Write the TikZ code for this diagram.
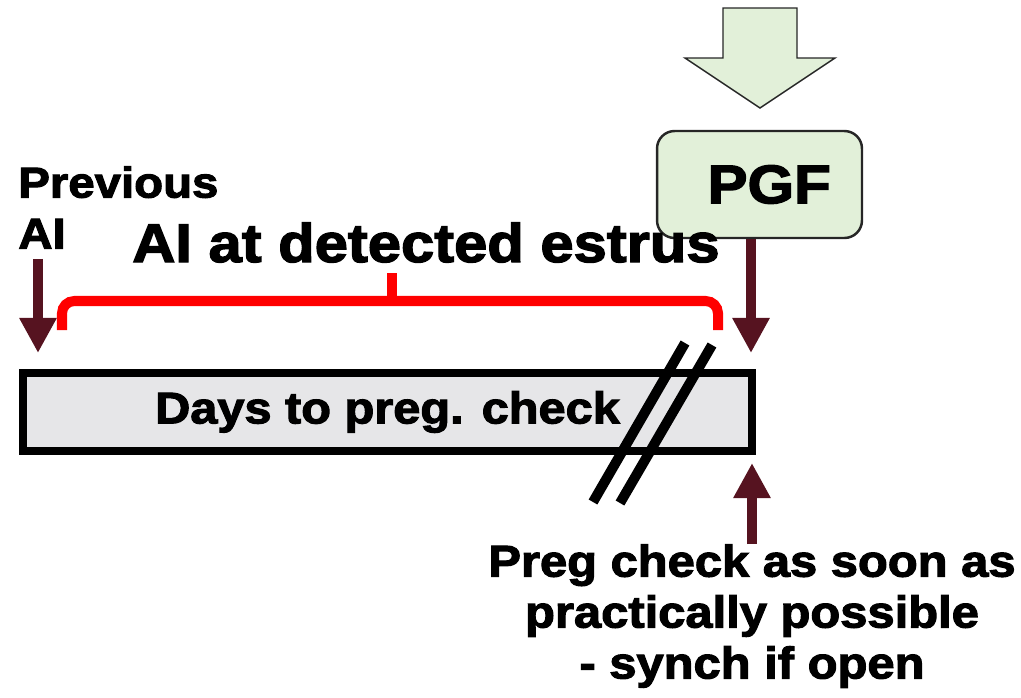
\documentclass[tikz,border=0pt]{standalone}
\usepackage{fontspec}
\newfontfamily\heavyfont[FakeBold=2.5,FakeStretch=1.1]{Liberation Sans Bold}
\usetikzlibrary{arrows.meta}
\definecolor{pgfbg}{HTML}{E2F0D9}
\definecolor{pgfborder}{HTML}{262626}
\definecolor{arrowdark}{HTML}{561320}
\definecolor{barbg}{HTML}{E6E6E8}
\definecolor{bracered}{HTML}{FF0000}

\begin{document}
\begin{tikzpicture}[
    x=0.02cm, y=-0.02cm,
    every node/.style={inner sep=0pt},
    label/.style={font=\heavyfont\fontsize{#1}{29pt}\selectfont},
    pgfbox/.style={
        draw=pgfborder, fill=pgfbg, rounded corners=10pt, line width=1.4pt,
        minimum width=4.1cm, minimum height=2.14cm
    },
    bar/.style={
        draw=black, fill=barbg, line width=4.5pt,
        minimum width=14.58cm, minimum height=1.56cm
    },
    darkarrow/.style={
        draw=arrowdark, line width=6.2pt, -{Triangle[length=20pt, width=20pt]}
    },
    slash/.style={draw=black, line width=5.7pt},
]
\useasboundingbox (0,0) rectangle (1021,697);

% Big block arrow into PGF
\draw[fill=pgfbg, draw=pgfborder, line width=0.8pt]
    (723,8) -- (797,8) -- (797,58) -- (835,58) -- (760,108)
    -- (685,58) -- (723,58) -- cycle;

% PGF box
\node[pgfbox, label=31pt] (pgf) at (759.5,184.5) {\hspace*{11pt}PGF};

% Days bar
\node[bar, label=25.2pt] (bar) at (387.5,412) {Days to preg. check};

% Texts
\node[label=24.5pt, align=left, anchor=north west] (prevai) at (18,166)
    {Previous\\AI};
\node[label=30.9pt, anchor=base] (estrus) at (426,262) {AI at detected estrus};
\node[label=25.3pt, align=center, anchor=north] (checknote) at (752,544)
    {Preg check as soon as\\practically possible\\- synch if open};

% Red brace
\draw[bracered, line width=5.7pt, rounded corners=7pt]
    (62,330) -- (62,301) -- (718,301) -- (718,330);
\draw[bracered, line width=5.7pt] (392,302) -- (392,273);

% Break marks across the bar
\draw[slash] (593,502) -- (685,343);
\draw[slash] (620,503) -- (712,345);

% Arrows
\coordinate (prevtip) at (38,353);
\coordinate (pgftip) at (751,353);
\coordinate (checktip) at (752,463);
\draw[darkarrow, shorten <=5.7pt] (prevai.south -| prevtip) -- (prevtip);
\draw[darkarrow] (pgf.south -| pgftip) -- (pgftip);
\draw[darkarrow] (checknote.north -| checktip) -- (checktip);

\end{tikzpicture}
\end{document}
